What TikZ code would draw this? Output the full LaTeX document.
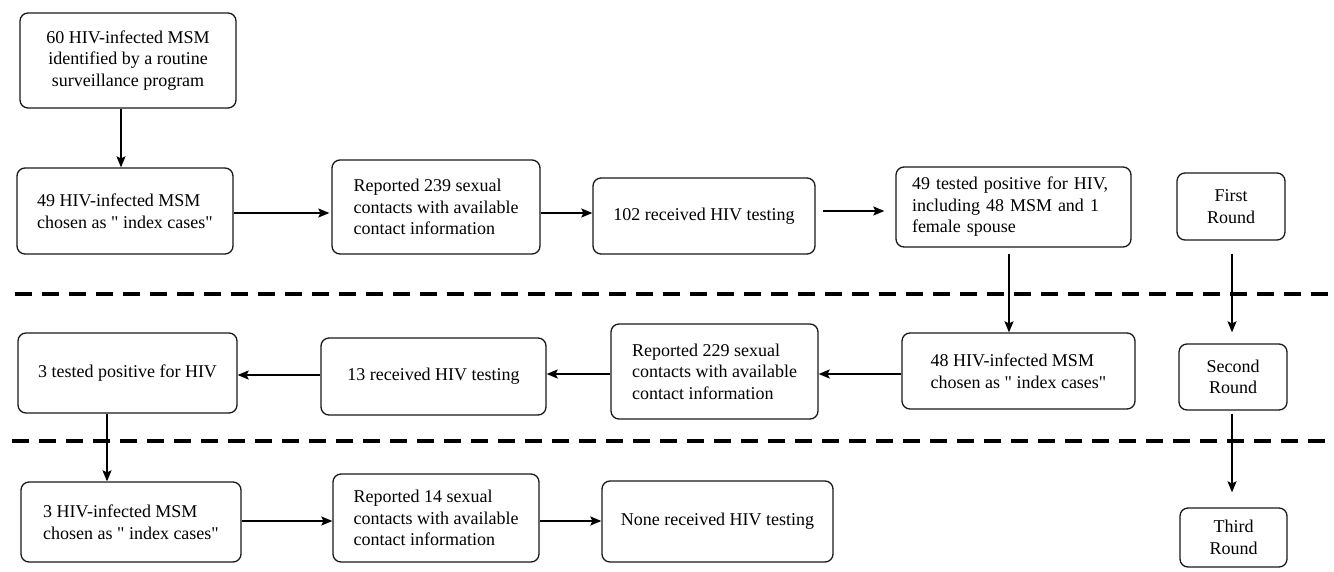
\documentclass[tikz,border=0pt]{standalone}
\usepackage{fontspec}
\setmainfont{Liberation Serif}
\newfontfamily\qf{Liberation Serif}
\newcommand{\sq}{{\qf"}}
\usetikzlibrary{arrows.meta}
\begin{document}
\begin{tikzpicture}[x=1pt,y=-1pt,
  box/.style={draw=black!90, line width=1.3pt, rounded corners=8pt, fill=white,
    inner sep=2pt, font=\fontsize{18}{21.5}\selectfont},
  lbox/.style={box, align=left},
  cbox/.style={box, align=center},
  arr/.style={line width=1.5pt, -{Stealth[length=11pt,width=9pt,inset=2pt]}},
  sep/.style={line width=3.6pt, dash pattern=on 17pt off 10pt}]
\useasboundingbox (0,0) rectangle (1334,571);
\fill[white] (0,0) rectangle (1334,571);
% separators
\coordinate (s1a) at (15,294); \coordinate (s1b) at (1334,294);
\coordinate (s2a) at (12,441); \coordinate (s2b) at (1334,441);
\draw[sep] (s1a) -- (s1b);
\draw[sep] (s2a) -- (s2b);
% first round
\node[cbox, minimum width=216pt, minimum height=95pt] (A) at (128,60.5)
  {60 HIV-infected MSM\\identified by a routine\\surveillance program};
\node[lbox, minimum width=216pt, minimum height=86pt] (B) at (125,211)
  {49 HIV-infected MSM\\chosen as \sq\ index cases\sq};
\node[lbox, minimum width=208pt, minimum height=94pt] (C) at (436,207)
  {Reported 239 sexual\\contacts with available\\contact information};
\node[lbox, minimum width=222pt, minimum height=76pt] (D) at (704,216)
  {102 received HIV testing};
\node[lbox, minimum width=235pt, minimum height=80pt, text width=203pt, inner xsep=16pt] (E) at (1013.5,207)
  {49 tested positive for HIV,\\including 48 MSM and 1\\female spouse};
\node[cbox, minimum width=108pt, minimum height=67pt] (R1) at (1231,206.5)
  {First\\Round};
% second round
\node[lbox, minimum width=219pt, minimum height=80pt] (F) at (127.5,373)
  {3 tested positive for HIV};
\node[lbox, minimum width=225pt, minimum height=77pt] (G) at (433.5,376.5)
  {13 received HIV testing};
\node[lbox, minimum width=207pt, minimum height=95pt] (H) at (714.5,371.5)
  {Reported 229 sexual\\contacts with available\\contact information};
\node[lbox, minimum width=233pt, minimum height=76pt] (I) at (1018.5,371)
  {48 HIV-infected MSM\\chosen as \sq\ index cases\sq};
\node[cbox, minimum width=108pt, minimum height=66pt] (R2) at (1233,377)
  {Second\\Round};
% third round
\node[lbox, minimum width=220pt, minimum height=80pt] (J) at (131,522)
  {3 HIV-infected MSM\\chosen as \sq\ index cases\sq};
\node[lbox, minimum width=206pt, minimum height=88pt] (K) at (436,518)
  {Reported 14 sexual\\contacts with available\\contact information};
\node[lbox, minimum width=231pt, minimum height=81pt] (L) at (717.5,521.5)
  {None received HIV testing};
\node[cbox, minimum width=107pt, minimum height=59pt] (R3) at (1233.5,537.5)
  {Third\\Round};
% connectors
\coordinate (a1) at ([xshift=-7pt]A.south);
\draw[arr] (a1) -- (a1 |- B.north);
\coordinate (b1) at ([yshift=-2pt]B.east);
\draw[arr, shorten >=2pt] (b1) -- (b1 -| C.west);
\coordinate (c1) at ([yshift=-6pt]C.east);
\draw[arr] (c1) -- (c1 -| D.west);
\coordinate (d1) at ([yshift=5pt]D.east);
\draw[arr, shorten <=7pt, shorten >=11pt] (d1) -- (d1 -| E.west);
\coordinate (e1) at ([xshift=-4.5pt]E.south);
\draw[arr, shorten <=6pt] (e1) -- (e1 |- I.north);
\coordinate (r1) at ([xshift=1pt]R1.south);
\draw[arr, shorten <=13pt, shorten >=11pt] (r1) -- (r1 |- R2.north);
\coordinate (r2) at ([xshift=-1pt]R2.south);
\draw[arr, shorten <=3pt, shorten >=15pt] (r2) -- (r2 |- R3.north);
\coordinate (i1) at ([yshift=-3pt]I.west);
\draw[arr] (i1) -- (i1 -| H.east);
\coordinate (h1) at ([yshift=-2.5pt]H.west);
\draw[arr] (h1) -- (h1 -| G.east);
\coordinate (g1) at ([yshift=1.5pt]G.west);
\draw[arr] (g1) -- (g1 -| F.east);
\coordinate (f1) at ([xshift=-20.5pt]F.south);
\draw[arr] (f1) -- (f1 |- J.north);
\coordinate (j1) at ([yshift=1pt]J.east);
\draw[arr] (j1) -- (j1 -| K.west);
\coordinate (k1) at ([yshift=-3pt]K.east);
\draw[arr] (k1) -- (k1 -| L.west);
\end{tikzpicture}
\end{document}
